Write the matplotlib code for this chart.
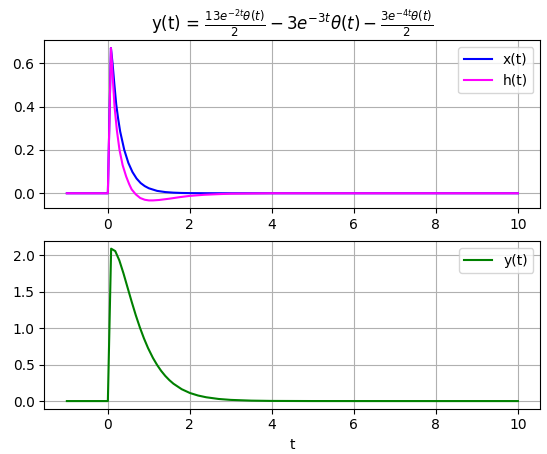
import matplotlib
matplotlib.use("Agg")
import matplotlib.pyplot as plt

# x(t)
t_x = [-1.0, 0.0, 0.075, 0.114, 0.16, 0.204, 0.25, 0.3, 0.4, 0.5, 0.6, 0.7, 0.8, 0.9,
       1.0, 1.2, 1.4, 1.6, 1.8, 2.0, 2.4, 3.0, 10.0]
x_vals = [0.0, 0.0, 0.67, 0.60, 0.50, 0.41, 0.345, 0.285, 0.20, 0.14, 0.098, 0.068, 0.047, 0.033,
          0.023, 0.011, 0.0055, 0.0028, 0.0014, 0.0007, 0.0002, 0.0, 0.0]

# h(t)
t_h = [-1.0, 0.0, 0.075, 0.10, 0.13, 0.163, 0.22, 0.284, 0.36, 0.447, 0.52, 0.58,
       0.68, 0.79, 0.9, 1.0, 1.1, 1.25, 1.5, 1.75, 2.0, 2.35, 2.7, 3.0, 3.5, 4.0, 10.0]
h_vals = [0.0, 0.0, 0.67, 0.60, 0.50, 0.40, 0.29, 0.20, 0.13, 0.077, 0.042, 0.018,
          -0.005, -0.022, -0.030, -0.033, -0.033, -0.031, -0.025, -0.018, -0.012, -0.007, -0.004, -0.002, -0.001, 0.0, 0.0]

# y(t)
t_y = [-1.0, 0.0, 0.08, 0.18, 0.28, 0.38, 0.48, 0.58, 0.68, 0.78, 0.88, 0.98,
       1.1, 1.2, 1.3, 1.4, 1.5, 1.6, 1.8, 2.0, 2.2, 2.4, 2.7, 3.0, 3.5, 4.0,
       5.0, 7.0, 10.0]
y_vals = [0.0, 0.0, 2.09, 2.057, 1.929, 1.753, 1.558, 1.364, 1.179, 1.011, 0.860, 0.727,
          0.591, 0.496, 0.414, 0.345, 0.287, 0.238, 0.163, 0.111, 0.076, 0.052, 0.029, 0.016, 0.006, 0.002,
          0.0003, 0.0, 0.0]

title = (r"y(t) = $\frac{13e^{-2t}\theta(t)}{2} - 3e^{-3t}\theta(t)"
         r" - \frac{3e^{-4t}\theta(t)}{2}$")

fig, (ax1, ax2) = plt.subplots(2, 1, figsize=(5.47, 4.54), dpi=100)
fig.subplots_adjust(left=0.081, right=0.988, top=0.911, bottom=0.0998, hspace=0.197)

ax1.plot(t_x, x_vals, color="blue", label="x(t)")
ax1.plot(t_h, h_vals, color="magenta", label="h(t)")
ax1.set_title(title)
ax1.grid(True)
ax1.legend(loc="upper right")

ax2.plot(t_y, y_vals, color="green", label="y(t)")
ax2.set_xlabel("t")
ax2.grid(True)
ax2.legend(loc="upper right")

fig.savefig("out.png", dpi=100)
